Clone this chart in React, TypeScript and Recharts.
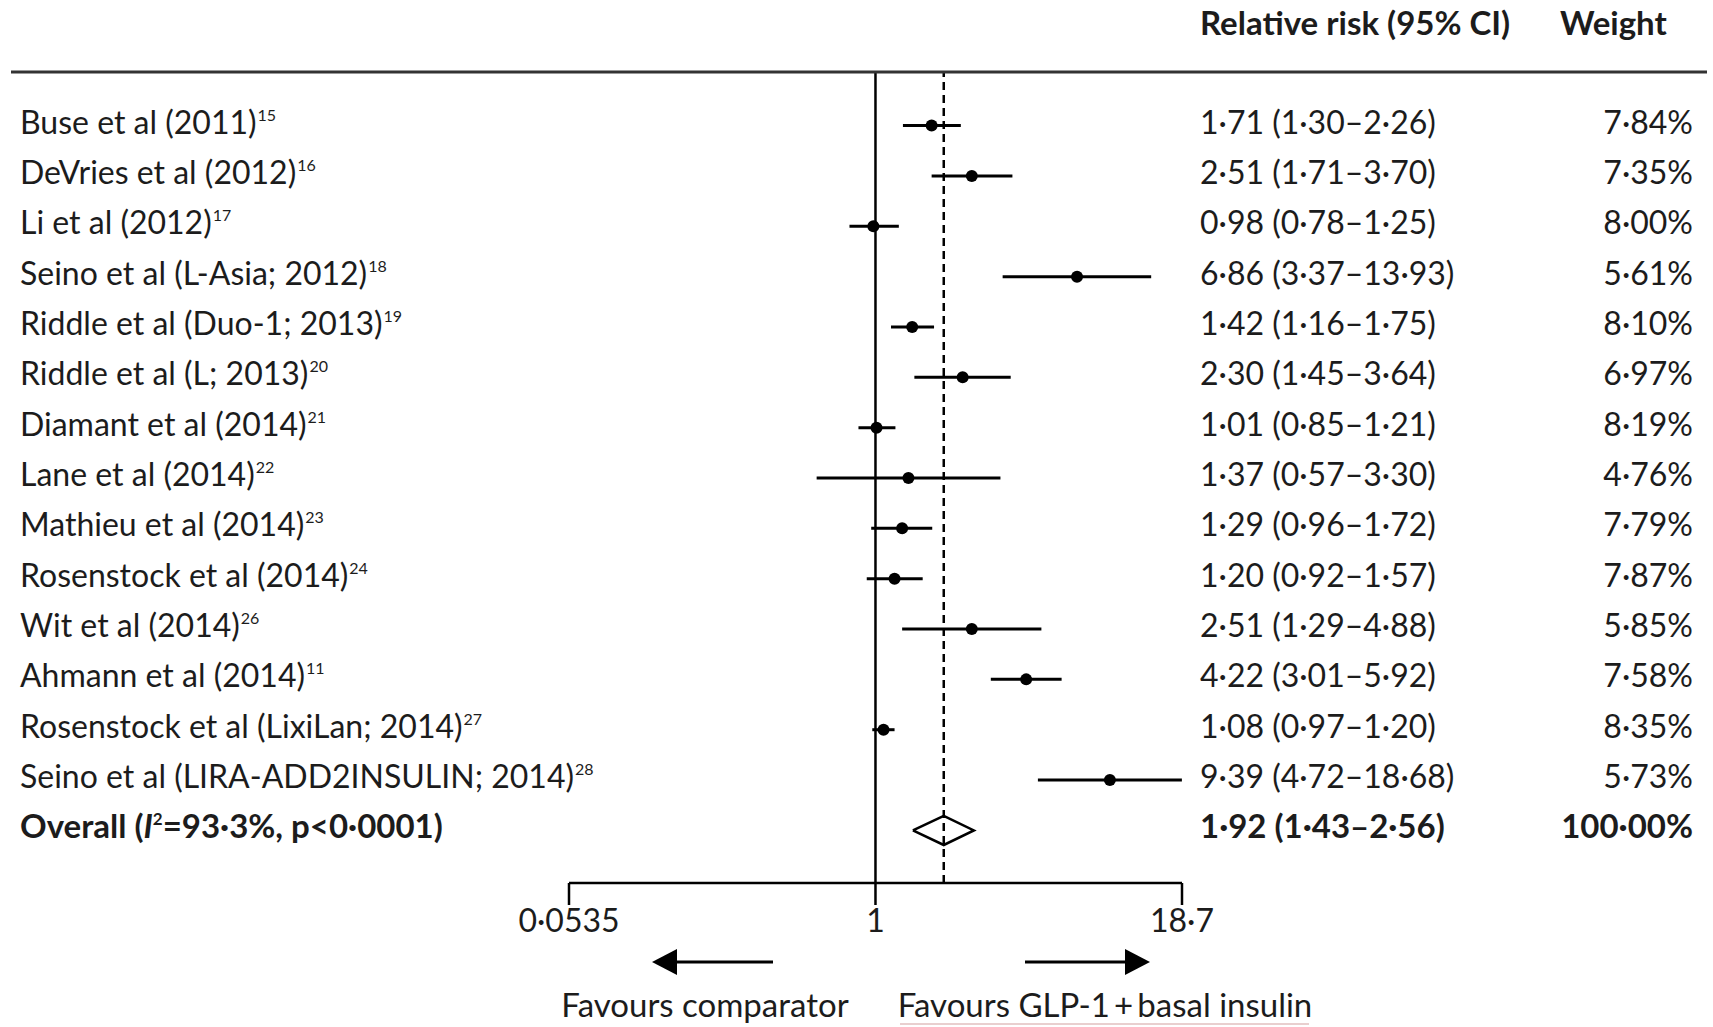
import React from "react";
import { ScatterChart, Scatter, XAxis, YAxis, ErrorBar, ReferenceLine } from "recharts";

// study rows, top to bottom
const studies = [
  "Buse et al (2011)",
  "DeVries et al (2012)",
  "Li et al (2012)",
  "Seino et al (L-Asia; 2012)",
  "Riddle et al (Duo-1; 2013)",
  "Riddle et al (L; 2013)",
  "Diamant et al (2014)",
  "Lane et al (2014)",
  "Mathieu et al (2014)",
  "Rosenstock et al (2014)",
  "Wit et al (2014)",
  "Ahmann et al (2014)",
  "Rosenstock et al (LixiLan; 2014)",
  "Seino et al (LIRA-ADD2INSULIN; 2014)",
];
const refs = ["15", "16", "17", "18", "19", "20", "21", "22", "23", "24", "26", "11", "27", "28"];
const rr = [1.71, 2.51, 0.98, 6.86, 1.42, 2.3, 1.01, 1.37, 1.29, 1.2, 2.51, 4.22, 1.08, 9.39];
const lower = [1.3, 1.71, 0.78, 3.37, 1.16, 1.45, 0.85, 0.57, 0.96, 0.92, 1.29, 3.01, 0.97, 4.72];
const upper = [2.26, 3.7, 1.25, 13.93, 1.75, 3.64, 1.21, 3.3, 1.72, 1.57, 4.88, 5.92, 1.2, 18.68];
const weights = [7.84, 7.35, 8.0, 5.61, 8.1, 6.97, 8.19, 4.76, 7.79, 7.87, 5.85, 7.58, 8.35, 5.73];

const overallRR = 1.92;
const overallLower = 1.43;
const overallUpper = 2.56;
const overallWeight = 100;

const xTicks = [0.0535, 1, 18.7];

const FONT = "Lato, 'Open Sans', sans-serif";
const INK = "#1c1c1c";
const BODY = 32;
const BOLD = 33;
const OVERALL_ROW = studies.length;
const DIAMOND_HALF = 0.29; // in row units

const fmt = (v: number, d = 2) => v.toFixed(d).replace(".", "\u00b7");

const points = rr.map((v, i) => ({
  x: v,
  y: i,
  err: [v - lower[i], upper[i] - v],
}));

const diamond = [
  { x: overallLower, y: OVERALL_ROW },
  { x: overallRR, y: OVERALL_ROW - DIAMOND_HALF },
  { x: overallUpper, y: OVERALL_ROW },
  { x: overallRR, y: OVERALL_ROW + DIAMOND_HALF },
  { x: overallLower, y: OVERALL_ROW },
];

const rowTicks = Array.from({ length: studies.length + 1 }, (_, i) => i);

const LeftTick = (props: any) => {
  const { y, payload } = props;
  const i = payload.value;
  if (i === OVERALL_ROW) {
    return (
      <text x={20} y={y + 8} fontSize={BOLD} fontWeight="bold" fill={INK} fontFamily={FONT}>
        Overall (<tspan fontStyle="italic">I</tspan>
        <tspan fontSize={17} dy={-13}>2</tspan>
        <tspan dy={13}>=93·3%, p&lt;0·0001)</tspan>
      </text>
    );
  }
  return (
    <text x={20} y={y + 8} fontSize={BODY} fill={INK} fontFamily={FONT}>
      {studies[i]}
      <tspan fontSize={16} dx={1} dy={-13}>{refs[i]}</tspan>
    </text>
  );
};

const RightTick = (props: any) => {
  const { y, payload } = props;
  const i = payload.value;
  const isOverall = i === OVERALL_ROW;
  const est = isOverall ? overallRR : rr[i];
  const lo = isOverall ? overallLower : lower[i];
  const hi = isOverall ? overallUpper : upper[i];
  const w = isOverall ? overallWeight : weights[i];
  return (
    <g
      fontSize={isOverall ? BOLD : BODY}
      fill={INK}
      fontFamily={FONT}
      fontWeight={isOverall ? "bold" : "normal"}
    >
      <text x={1200} y={y + 8}>{`${fmt(est)} (${fmt(lo)}\u2013${fmt(hi)})`}</text>
      <text x={1693} y={y + 8} textAnchor="end">{`${fmt(w)}%`}</text>
    </g>
  );
};

const XTick = (props: any) => {
  const { x, y, payload } = props;
  const v = payload.value;
  const label = v < 0.1 ? fmt(v, 4) : v === 1 ? "1" : fmt(v, 1);
  return (
    <text x={x} y={y + 25} textAnchor="middle" fontSize={BODY} fill={INK} fontFamily={FONT}>
      {label}
    </text>
  );
};

const Dot = (props: any) => <circle cx={props.cx} cy={props.cy} r={6} fill="#000" />;
const NoDot = () => <g />;

export default function App() {
  return (
    <div style={{ position: "absolute", left: 0, top: 0, width: 1713, height: 1027, background: "#fff" }}>
      <ScatterChart width={1713} height={1027} margin={{ top: 72, right: 0, bottom: 84, left: 0 }}>
        <XAxis
          dataKey="x"
          type="number"
          scale="log"
          domain={[0.0535, 18.7]}
          allowDataOverflow
          ticks={xTicks}
          interval={0}
          height={60}
          tickSize={22}
          axisLine={{ stroke: "#000", strokeWidth: 2.5 }}
          tickLine={{ stroke: "#000", strokeWidth: 2.5 }}
          tick={(p: any) => <XTick {...p} />}
        />
        <YAxis
          yAxisId="left"
          dataKey="y"
          type="number"
          reversed
          domain={[-1.065, 15.045]}
          allowDataOverflow
          ticks={rowTicks}
          interval={0}
          width={569}
          axisLine={false}
          tickLine={false}
          tick={(p: any) => <LeftTick {...p} />}
        />
        <YAxis
          yAxisId="right"
          orientation="right"
          dataKey="y"
          type="number"
          reversed
          domain={[-1.065, 15.045]}
          allowDataOverflow
          ticks={rowTicks}
          interval={0}
          width={531}
          axisLine={false}
          tickLine={false}
          tick={(p: any) => <RightTick {...p} />}
        />
        <ReferenceLine yAxisId="left" x={1} stroke="#000" strokeWidth={2.5} />
        <ReferenceLine yAxisId="left" x={overallRR} stroke="#000" strokeWidth={2.5} strokeDasharray="8 5" />
        <Scatter yAxisId="left" data={points} shape={Dot} isAnimationActive={false}>
          <ErrorBar dataKey="err" direction="x" width={0} stroke="#000" strokeWidth={3} isAnimationActive={false} />
        </Scatter>
        <Scatter
          yAxisId="left"
          data={diamond}
          shape={NoDot}
          line={{ stroke: "#000", strokeWidth: 2.5 }}
          isAnimationActive={false}
        />
      </ScatterChart>
      <svg
        width={1713}
        height={1027}
        style={{ position: "absolute", left: 0, top: 0, pointerEvents: "none" }}
        fontFamily={FONT}
      >
        <text x={1200} y={35} fontSize={BOLD} fontWeight="bold" fill={INK}>
          Relative risk (95% CI)
        </text>
        <text x={1560} y={35} fontSize={BOLD} fontWeight="bold" fill={INK}>
          Weight
        </text>
        <line x1={11} x2={1707} y1={72} y2={72} stroke="#333" strokeWidth={3} />
        <line x1={672} x2={773} y1={962} y2={962} stroke="#000" strokeWidth={3} />
        <polygon points="652,962 677,949 677,975" fill="#000" />
        <line x1={1025} x2={1128} y1={962} y2={962} stroke="#000" strokeWidth={3} />
        <polygon points="1150,962 1125,949 1125,975" fill="#000" />
        <text x={705} y={1017} fontSize={BOLD} textAnchor="middle" fill={INK}>
          Favours comparator
        </text>
        <text x={1105} y={1017} fontSize={BOLD} textAnchor="middle" fill={INK}>
          Favours GLP-1{"\u2009+\u2009"}basal insulin
        </text>
        <line x1={900} x2={1309} y1={1024} y2={1024} stroke="#e9cfcf" strokeWidth={2} />
      </svg>
    </div>
  );
}
